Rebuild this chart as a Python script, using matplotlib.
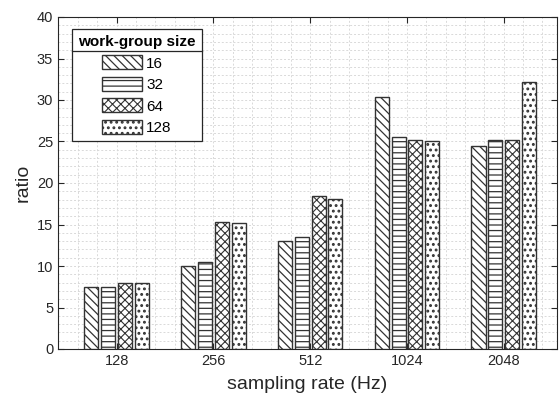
import numpy as np
import matplotlib
matplotlib.use('Agg')
import matplotlib.pyplot as plt
from matplotlib.lines import Line2D

plt.rcParams['font.family'] = ['Liberation Sans', 'DejaVu Sans']
plt.rcParams['hatch.linewidth'] = 0.9

# data
rates = ['128', '256', '512', '1024', '2048']
group_sizes = ['16', '32', '64', '128']
ratio_16 = [7.5, 10.0, 13.05, 30.4, 24.5]
ratio_32 = [7.5, 10.5, 13.5, 25.6, 25.2]
ratio_64 = [8.0, 15.35, 18.45, 25.2, 25.2]
ratio_128 = [7.9, 15.2, 18.1, 25.1, 32.2]

series = [ratio_16, ratio_32, ratio_64, ratio_128]
hatches = ['\\\\\\\\', '---', 'xxxx', '...']
hatch_lw = [0.9, 0.9, 0.8, 1.3]

fig = plt.figure(figsize=(5.6, 4.05), dpi=100)
ax = fig.add_axes([58/560, 1-349/405, 499/560, 332/405])

x = np.arange(1, len(rates)+1)
pitch = 0.174
width = 0.145
for i, vals in enumerate(series):
    bars = ax.bar(x + (i-1.5)*pitch, vals, width, color='white', edgecolor='0.2',
                  linewidth=1.0, hatch=hatches[i], label=group_sizes[i], zorder=3)
    for b in bars:
        if hasattr(b, 'set_hatch_linewidth'):
            b.set_hatch_linewidth(hatch_lw[i])

ax.set_xlim(0.395, 5.55)
ax.set_ylim(0, 40)
ax.set_xticks(x)
ax.set_xticklabels(rates)
ax.set_yticks(np.arange(0, 41, 5))
ax.set_xticks(np.arange(0.4, 5.56, 0.2), minor=True)
ax.set_yticks(np.arange(0, 41, 1), minor=True)
ax.tick_params(which='major', direction='in', top=True, right=True, length=4,
               width=0.8, color='0.15', labelsize=10.5, labelcolor='0.15')
ax.tick_params(which='minor', length=0, top=True, right=True)
ax.grid(which='both', linestyle=(0, (2, 2)), color='0.85', linewidth=0.7, zorder=0)
ax.set_axisbelow(True)
for s in ax.spines.values():
    s.set_color('0.15')
    s.set_linewidth(0.8)

ax.set_xlabel('sampling rate (Hz)', fontsize=14, color='0.15', labelpad=6)
ax.set_ylabel('ratio', fontsize=14, color='0.15', labelpad=4)

leg = ax.legend(title='work-group size', loc='upper left',
                bbox_to_anchor=(0.028, 0.964), borderaxespad=0,
                fontsize=11, title_fontproperties={'weight': 'bold', 'size': 11},
                fancybox=False, framealpha=1, edgecolor='0.15',
                handlelength=2.6, handleheight=1.0, labelspacing=0.42,
                handletextpad=0.3, borderpad=0.4)
leg.get_frame().set_linewidth(0.9)
for h, lw in zip(leg.legend_handles, hatch_lw):
    if hasattr(h, 'set_hatch_linewidth'):
        h.set_hatch_linewidth(lw)

# separator line under legend title
fig.canvas.draw()
r = fig.canvas.get_renderer()
lb = leg.get_window_extent(r)
tb = leg.get_title().get_window_extent(r)
ysep = tb.y0 - 2
fig.add_artist(Line2D([lb.x0/560, lb.x1/560], [ysep/405, ysep/405],
                      transform=fig.transFigure, color='0.15', linewidth=0.9))

fig.savefig('out.png', dpi=100)
